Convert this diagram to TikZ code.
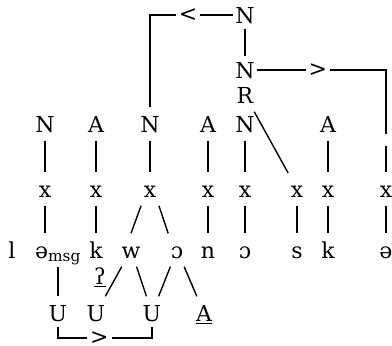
\documentclass[tikz,border=0pt]{standalone}
\usepackage{fontspec}
\usepackage{amsmath}
\setmainfont{DejaVu Serif}

\begin{document}
\begin{tikzpicture}[x=1pt, y=-1pt, line width=1.4pt]
          \tikzset{TierStyle/.style={inner xsep=2pt, inner ysep=8pt,
              text height=16pt, text depth=0pt,
              font=\fontsize{22}{24}\selectfont}}
          \tikzset{GapStyle/.style={inner sep=0pt, inner ysep=5pt, minimum width=4pt}}
          \tikzset{TurnStyle/.style={fill=white, inner xsep=3pt, inner ysep=0pt,
              text height=13pt, text depth=0pt,
              font=\fontsize{22}{24}\selectfont}}
          \useasboundingbox (0,0) rectangle (392,346);

          % head and prosodic tiers
          \node[TierStyle] (Ntop) at (245,15) {N};
          \node[TierStyle] (Nmid) at (245,70) {N};
          \node[TierStyle] (R) at (245,95) {R};
          \foreach \name/\lab/\pos in {n1/N/45, a2/A/96, n3/N/150, a4/A/208,
              n5/N/245, a7/A/328}
            \node[TierStyle] (\name) at (\pos,124) {\lab};
          \node[GapStyle] (e8) at (386,140) {};

          % skeleton
          \foreach \name/\pos in {x1/45, x2/96, x3/150, x4/208, x5/245,
              x6/297, x7/328, x8/386}
            \node[TierStyle] (\name) at (\pos,189) {x};

          % segments
          \node[TierStyle] (l) at (12,250) {l};
          \node[TierStyle] (schwa) at (58,250) {ə\textsubscript{msg}};
          \foreach \name/\lab/\pos in {k/k/96, w/w/131, oa/ɔ/177, n/n/208,
              ob/ɔ/245, s/s/297, kb/k/328, schwab/ə/386}
            \node[TierStyle] (\name) at (\pos,250) {\lab};
          \node[TierStyle] (glottal) at (100,276) {\underline{ʔ}};

          % elements
          \foreach \name/\lab/\pos in {U1/U/58, U2/U/96, U3/U/152}
            \node[TierStyle] (\name) at (\pos,313) {\lab};
          \node[TierStyle] (A) at (204,313) {\underline{A}};

          \foreach \a/\b in {n1/x1, a2/x2, n3/x3, a4/x4, n5/x5, a7/x7, e8/x8,
              x2/k, x4/n, x5/ob, x6/s, x7/kb, x8/schwab, R/x6,
              w/U2, w/U3, oa/U3, oa/A, schwa/U1}
            \draw (\a) -- (\b);
          \draw (x1) -- (x1 |- schwa.north);
          \draw (x3.south west) -- (w.north);
          \draw (x3.south east) -- (oa.north west);
          \draw[shorten <=-3pt, shorten >=-3pt] (Ntop) -- (Nmid);

          \draw (Ntop) -| node[TurnStyle, pos=.27] {<} (n3);
          \draw (Nmid) -| node[TurnStyle, pos=.235] {>} (e8);
          \draw[shorten <=-3pt, shorten >=-3pt] (U1) -- ++(0,25)
            -| node[TurnStyle, pos=.22] {>} (U3);
        \end{tikzpicture}
\end{document}
